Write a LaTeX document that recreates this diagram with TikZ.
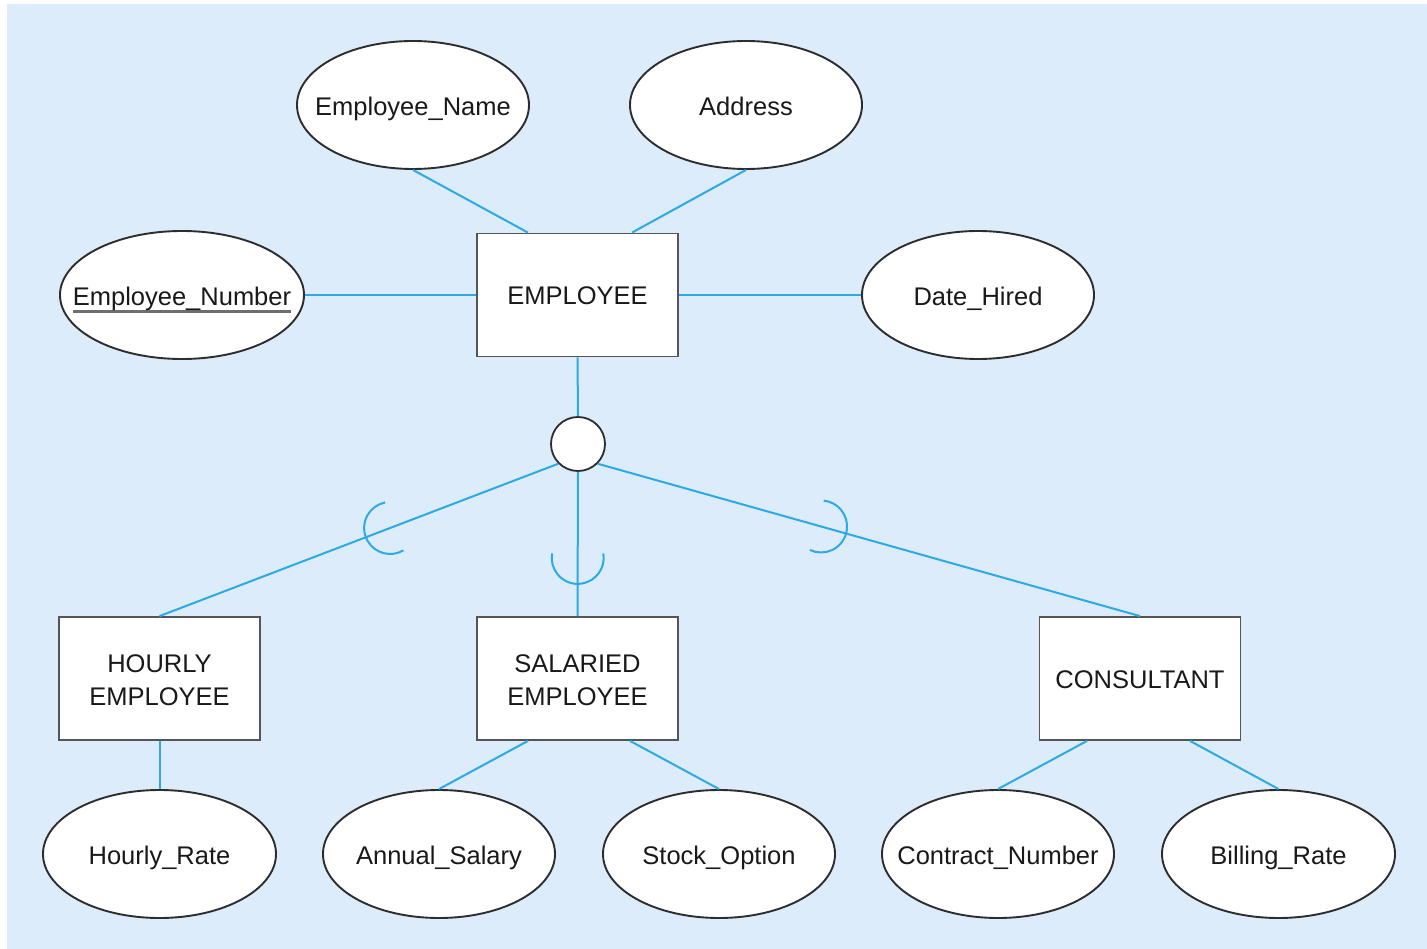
\documentclass[tikz,border=0pt]{standalone}
\usepackage{fontspec}
\setmainfont{Liberation Sans}
\usetikzlibrary{shapes.geometric,decorations.markings}

\definecolor{bgblue}{RGB}{220,236,250}
\definecolor{linkblue}{RGB}{45,170,230}
\definecolor{edgegray}{RGB}{45,45,45}
\definecolor{boxgray}{RGB}{85,85,85}
\definecolor{keygray}{RGB}{110,110,110}
\definecolor{inkgray}{RGB}{25,25,25}

% label of fixed-size shapes: zero width so the outline keeps its size
\newcommand\lbl[1]{\makebox[0pt]{#1}}
% two-line entity label: first baseline set 6.4pt above the box centre
\newcommand\twolbl[2]{\raisebox{6.4pt}[0pt][0pt]{\begin{tabular}[t]{@{}c@{}}#1\\#2\end{tabular}}}
% identifier attribute: text with a heavy gray underline
\newcommand\keyattr[1]{\setbox0\hbox{#1}\makebox[0pt]{\rlap{\color{keygray}\rule[-7.5pt]{\wd0}{2.8pt}}\box0}}

\tikzset{
  attr/.style={ellipse, draw=edgegray, line width=1.9pt, fill=white,
    minimum width=232pt, minimum height=128pt, inner sep=0pt,
    text height=21.3pt, text depth=0pt},
  entity/.style={rectangle, draw=boxgray, line width=1.8pt, fill=white,
    minimum width=201pt, minimum height=123pt, inner sep=0pt},
  oneline/.style={text height=19pt, text depth=0pt},
  hubstyle/.style={circle, draw=edgegray, line width=1.8pt, fill=white,
    minimum size=54pt, inner sep=0pt},
  conn/.style={draw=linkblue, line width=2pt},
  subsetmark/.style={postaction={decorate, decoration={markings,
    mark=at position #1 with {\draw[linkblue, line width=2pt]
      (100:26pt) arc[start angle=100, end angle=-100, radius=26pt];}}}}
}

\begin{document}
\begin{tikzpicture}[x=1pt, y=-1pt,
  every node/.style={font=\fontsize{25.5}{33}\selectfont, text=inkgray}]
\useasboundingbox (0,0) rectangle (1427,949);
\fill[bgblue] (7,4) rectangle (1427,949);

% supertype and its attributes
\node[attr] (ename) at (413,105) {\lbl{Employee\_Name}};
\node[attr] (addr) at (746,105) {\lbl{Address}};
\node[attr, minimum width=244pt] (enum) at (182,295) {\keyattr{Employee\_Number}};
\node[entity, oneline] (emp) at (577.5,295) {EMPLOYEE};
\node[attr] (hired) at (978,295) {\lbl{Date\_Hired}};

% specialization circle
\node[hubstyle] (hub) at (578,444) {};

% subtypes
\node[entity] (hourly) at (159.5,678.5) {\twolbl{HOURLY}{EMPLOYEE}};
\node[entity] (salaried) at (577.5,678.5) {\twolbl{SALARIED}{EMPLOYEE}};
\node[entity, oneline] (consult) at (1140,678.5) {CONSULTANT};

% subtype attributes
\node[attr, minimum width=233pt] (hrate) at (159.5,854) {\lbl{Hourly\_Rate}};
\node[attr] (asal) at (439,854) {\lbl{Annual\_Salary}};
\node[attr] (stock) at (719,854) {\lbl{Stock\_Option}};
\node[attr] (cnum) at (998,854) {\lbl{Contract\_Number}};
\node[attr, minimum width=233pt] (brate) at (1278.5,854) {\lbl{Billing\_Rate}};

% connectors
\draw[conn] (ename.south) -- ([xshift=-49.5pt]emp.north);
\draw[conn] (addr.south) -- ([xshift=54.5pt]emp.north);
\draw[conn] (enum.east) -- (emp.west);
\draw[conn] (emp.east) -- (hired.west);
\draw[conn] (emp.south) -- (hub.north);
\draw[conn, subsetmark=180pt] (hub.south west) -- (hourly.north);
\draw[conn, subsetmark=86pt] (hub.south) -- (salaried.north);
\draw[conn, subsetmark=232pt] (hub.south east) -- (consult.north);
\draw[conn] (hourly.south) -- (hrate.north);
\draw[conn] ([xshift=-49.5pt]salaried.south) -- (asal.north);
\draw[conn] ([xshift=52.5pt]salaried.south) -- (stock.north);
\draw[conn] ([xshift=-53pt]consult.south) -- (cnum.north);
\draw[conn] ([xshift=50pt]consult.south) -- (brate.north);
\end{tikzpicture}
\end{document}
